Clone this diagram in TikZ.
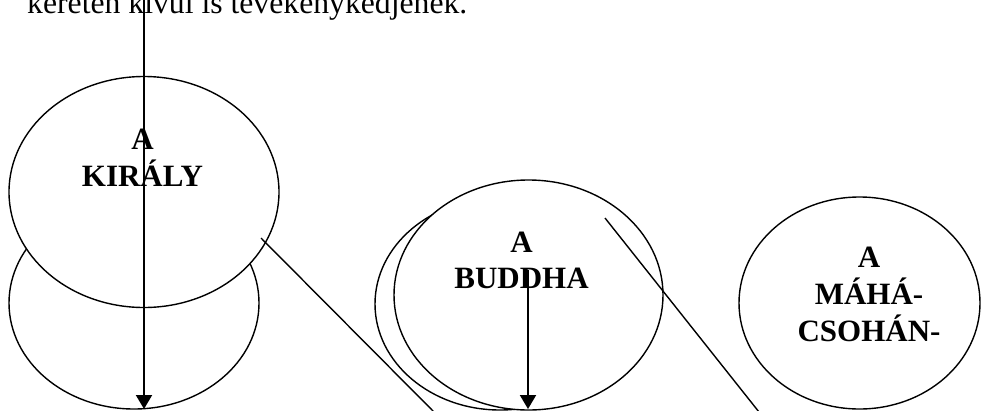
\documentclass[tikz,border=0pt]{standalone}
\usepackage{fontspec}
\setmainfont{Liberation Serif}
\usetikzlibrary{shapes.geometric,arrows.meta}
\tikzset{
  oval/.style={ellipse, draw=black, line width=1.4pt, inner sep=0pt, outer sep=0pt},
  whiteoval/.style={oval, fill=white},
  lbl/.style={anchor=base, inner sep=0pt, font=\fontsize{31}{36}\selectfont\bfseries},
  arrowline/.style={line width=2pt, -{Triangle[width=16pt,length=14pt]}},
  plainline/.style={line width=1.4pt}
}
\begin{document}
\begin{tikzpicture}[x=1pt,y=-1pt]
\useasboundingbox (0,0) rectangle (981,410);
\clip (0,0) rectangle (981,410);
% top text (clipped at top)
\node[anchor=base west, inner sep=0pt, font=\fontsize{31.7}{36}\selectfont] (toptext) at (27,13.5) {kereten kívül is tevékenykedjenek.};
% king ellipses
\node[oval, minimum width=250pt, minimum height=212pt] (kingB) at (134,303) {};
\node[whiteoval, minimum width=270pt, minimum height=231pt] (king) at (144,192) {};
\node[lbl] (kingT) at (142.5,149) {\begin{tabular}[t]{@{}c@{}}A\\KIRÁLY\end{tabular}};
% buddha ellipses
\node[oval, minimum width=250pt, minimum height=212pt] (buddhaB) at (500,304) {};
\node[whiteoval, minimum width=269pt, minimum height=230pt] (buddha) at (528.5,295) {};
\node[lbl] (buddhaT) at (521.5,252) {\begin{tabular}[t]{@{}c@{}}A\\BUDDHA\end{tabular}};
% maha ellipse
\node[whiteoval, minimum width=241pt, minimum height=212pt] (maha) at (859.5,303) {};
\node[lbl] (mahaT) at (869,267) {\begin{tabular}[t]{@{}c@{}}A\\MÁHÁ-\\CSOHÁN-\end{tabular}};
% connector end points
\coordinate (kingTop) at (144,-2);
\coordinate (kingBot) at (144,409);
\coordinate (d1a) at (261,238);
\coordinate (d1b) at (434,412);
\coordinate (budTop) at (528,270);
\coordinate (budBot) at (528,409);
\coordinate (d2a) at (605,218);
\coordinate (d2b) at (759,412);
% connectors
\draw[plainline] (d1a) -- (d1b);
\draw[plainline] (d2a) -- (d2b);
\draw[arrowline] (kingTop) -- (kingBot);
\draw[arrowline] (budTop) -- (budBot);
\end{tikzpicture}
\end{document}
